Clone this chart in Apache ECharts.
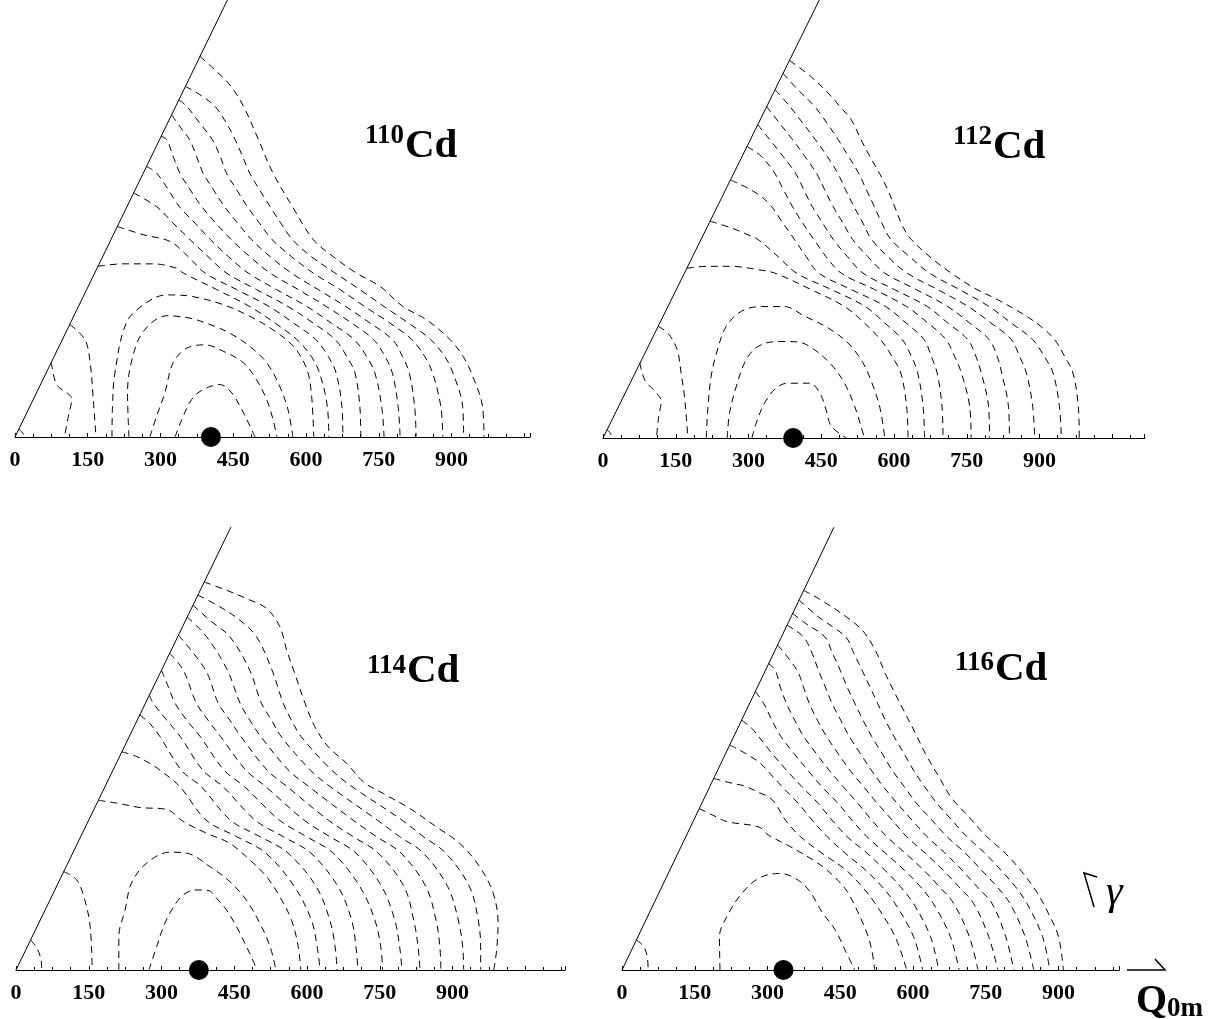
<!DOCTYPE html>
<html>
<head>
<meta charset="utf-8">
<title>Cd isotopes - potential energy surfaces</title>
<script src="https://cdn.jsdelivr.net/npm/echarts@6/dist/echarts.min.js"></script>
<style>
  html, body { margin: 0; padding: 0; background: #fff; }
  #chart { width: 1224px; height: 1019px; }
</style>
</head>
<body>
<div id="chart"></div>
<script>
// ---- data (Q0m units along both directions) ----
const qTickLabels = [0, 150, 300, 450, 600, 750, 900];
const massNumbers = ['110', '112', '114', '116'];
const minimumQ = [404, 392, 377, 333];
const axisEndQ = [1062, 1117, 1132, 1025];

const gammaEdge110 = [[0, 0], [438, 901]];
const gammaEdge112 = [[0, 0], [446, 903]];
const gammaEdge114 = [[0, 0], [443, 913]];
const gammaEdge116 = [[0, 0], [437, 913]];

const cd110Contours = [
  [[8,16],[16,8],[19,0]],
  [[75,154],[86,108],[117,78],[110,43],[102,0]],
  [[113,232],[144,201],[155,153],[161,83],[167,0]],
  [[330,0],[344,36],[364,77],[388,98],[423,108],[447,91],[464,63],[478,36],[495,0]],
  [[278,0],[292,43],[309,91],[326,153],[354,183],[392,190],[429,177],[471,153],[498,118],[519,77],[532,36],[540,0]],
  [[235,0],[232,91],[241,159],[265,218],[313,250],[361,245],[402,232],[443,214],[484,187],[519,153],[546,104],[563,56],[573,0]],
  [[200,0],[201,63],[206,132],[230,236],[271,277],[313,293],[364,290],[429,273],[484,249],[532,221],[574,187],[601,142],[611,91],[616,0]],
  [[171,352],[223,357],[285,357],[333,348],[347,338],[416,304],[484,269],[536,235],[581,201],[611,166],[628,132],[644,63],[647,0]],
  [[211,434],[265,417],[320,403],[357,372],[392,338],[457,304],[524,269],[574,235],[620,201],[646,166],[662,132],[674,63],[676,0]],
  [[245,503],[292,475],[326,441],[361,407],[398,372],[436,338],[498,304],[563,269],[615,235],[660,201],[684,166],[701,132],[711,63],[713,0]],
  [[271,558],[292,544],[316,510],[339,475],[371,441],[403,407],[440,372],[481,338],[539,304],[602,269],[652,235],[699,201],[725,166],[742,132],[756,63],[761,0]],
  [[301,620],[313,613],[326,579],[340,544],[361,510],[385,475],[414,441],[446,407],[484,372],[526,338],[584,304],[642,269],[694,235],[739,201],[763,166],[778,132],[790,63],[794,0]],
  [[323,664],[340,640],[360,613],[374,579],[388,544],[409,510],[432,475],[459,441],[488,407],[526,372],[570,338],[625,304],[682,269],[732,235],[778,201],[799,166],[813,132],[824,63],[827,0]],
  [[338,695],[354,682],[381,647],[407,613],[423,579],[436,544],[457,510],[479,475],[504,441],[530,407],[570,372],[615,338],[670,304],[721,269],[773,235],[818,201],[845,166],[861,132],[878,63],[882,0]],
  [[351,723],[381,706],[412,682],[436,647],[454,613],[469,579],[484,544],[504,510],[526,475],[548,441],[572,407],[611,372],[660,338],[711,304],[761,269],[811,235],[857,201],[886,166],[903,132],[923,63],[925,0]],
  [[381,785],[412,757],[443,726],[471,682],[502,613],[532,544],[572,475],[615,407],[656,372],[704,338],[752,311],[800,269],[848,242],[897,201],[924,166],[941,132],[964,63],[967,0]]
];

const cd112Contours = [
  [[8,17],[16,9],[17,0]],
  [[76,155],[86,120],[107,96],[120,76],[115,45],[110,0]],
  [[114,230],[134,216],[153,182],[161,134],[168,86],[175,0]],
  [[307,0],[316,31],[333,72],[357,103],[381,113],[426,113],[447,93],[460,58],[471,24],[502,0]],
  [[256,0],[261,52],[275,107],[295,161],[320,189],[361,199],[402,198],[436,182],[471,151],[498,113],[519,65],[532,24],[539,0]],
  [[213,0],[216,58],[223,127],[234,175],[254,230],[285,261],[326,271],[374,271],[416,251],[464,227],[505,196],[536,155],[557,107],[572,58],[581,0]],
  [[173,350],[216,354],[265,354],[320,347],[354,340],[429,306],[498,271],[539,237],[572,203],[596,168],[614,134],[626,65],[629,0]],
  [[221,447],[265,433],[299,419],[320,409],[361,374],[399,340],[471,306],[541,271],[581,237],[617,203],[636,168],[649,134],[660,65],[663,0]],
  [[263,532],[299,515],[326,498],[347,478],[371,443],[395,409],[419,374],[445,340],[512,306],[583,271],[625,237],[662,203],[677,168],[689,134],[699,65],[701,0]],
  [[297,601],[326,581],[354,546],[372,512],[390,478],[412,443],[435,409],[460,374],[491,340],[560,306],[626,271],[670,237],[707,203],[725,168],[739,134],[756,65],[759,0]],
  [[319,646],[344,615],[371,581],[397,546],[414,512],[431,478],[453,443],[475,409],[504,374],[536,340],[601,306],[669,271],[711,237],[752,203],[769,168],[780,134],[795,65],[797,0]],
  [[337,684],[364,649],[391,615],[416,581],[440,546],[457,512],[474,478],[495,443],[515,409],[546,374],[581,340],[646,306],[711,271],[756,237],[796,203],[813,168],[822,134],[836,65],[838,0]],
  [[355,718],[385,684],[412,649],[438,615],[462,581],[484,546],[500,512],[517,478],[536,443],[554,409],[587,374],[627,340],[690,306],[753,271],[800,237],[842,203],[859,168],[873,134],[886,65],[890,0]],
  [[371,752],[402,718],[436,684],[462,649],[485,615],[506,581],[527,546],[543,512],[559,478],[575,443],[594,409],[632,374],[673,340],[735,306],[796,271],[842,237],[886,203],[910,168],[928,134],[941,65],[945,0]],
  [[385,778],[429,745],[471,704],[488,684],[512,656],[532,615],[550,581],[570,546],[587,512],[601,478],[618,436],[636,409],[677,371],[718,340],[766,309],[814,285],[862,258],[903,230],[931,203],[952,168],[969,134],[980,65],[982,0]]
];

const cd114Contours = [
  [[30,62],[43,45],[51,24],[53,0]],
  [[98,203],[125,186],[142,144],[153,89],[157,0]],
  [[274,0],[290,48],[304,89],[321,124],[345,155],[372,165],[396,164],[417,144],[434,124],[451,96],[465,69],[482,34],[497,0]],
  [[212,0],[212,69],[225,124],[238,179],[269,220],[317,243],[352,241],[400,213],[441,182],[475,144],[503,96],[524,48],[536,0]],
  [[170,350],[208,344],[256,335],[311,331],[345,306],[393,282],[441,261],[482,227],[517,192],[544,151],[568,103],[582,48],[587,0]],
  [[218,450],[249,440],[276,426],[297,412],[338,378],[392,309],[455,275],[515,241],[574,172],[609,103],[621,48],[627,0]],
  [[255,526],[276,508],[297,481],[341,412],[382,378],[442,309],[503,275],[561,241],[619,172],[647,103],[658,48],[662,0]],
  [[275,567],[283,550],[311,515],[339,481],[385,412],[427,378],[493,309],[551,275],[608,241],[664,172],[692,103],[701,48],[705,0]],
  [[300,618],[314,584],[328,550],[352,515],[380,481],[429,412],[471,378],[543,309],[599,275],[654,241],[709,172],[740,103],[752,48],[756,0]],
  [[317,653],[345,618],[372,550],[396,515],[422,481],[474,412],[515,378],[594,309],[647,275],[701,241],[754,172],[781,103],[791,48],[796,0]],
  [[335,690],[391,618],[417,550],[441,515],[464,481],[518,412],[559,378],[644,309],[695,275],[747,241],[800,172],[820,103],[829,48],[833,0]],
  [[353,728],[393,687],[436,618],[462,550],[482,515],[505,481],[562,412],[604,378],[695,309],[743,275],[794,241],[845,172],[866,103],[874,48],[876,0]],
  [[365,752],[400,721],[441,687],[482,618],[506,550],[527,515],[547,481],[607,412],[648,378],[745,309],[791,275],[840,241],[890,172],[912,103],[921,48],[923,0]],
  [[375,773],[420,749],[462,721],[496,687],[528,618],[551,550],[568,515],[588,481],[651,412],[693,378],[796,309],[840,275],[886,241],[935,172],[953,103],[958,48],[958,0]],
  [[388,800],[434,783],[482,763],[517,745],[544,708],[558,660],[575,611],[596,550],[616,502],[644,460],[682,426],[716,388],[757,364],[812,333],[867,295],[915,261],[956,213],[984,158],[994,96],[991,41],[985,0]]
];

const cd116Contours = [
  [[30,62],[45,48],[52,27],[54,0]],
  [[202,0],[201,69],[220,117],[247,158],[282,189],[323,199],[354,191],[385,165],[412,120],[440,82],[460,41],[480,0]],
  [[159,333],[186,320],[216,306],[282,295],[302,278],[344,256],[392,228],[423,206],[460,168],[478,137],[505,76],[515,41],[521,0]],
  [[189,395],[227,385],[254,379],[282,366],[302,357],[316,344],[337,309],[368,275],[412,241],[462,206],[495,172],[522,137],[563,69],[587,0]],
  [[222,464],[254,447],[282,429],[299,412],[330,378],[363,344],[392,309],[423,275],[460,241],[502,206],[536,172],[563,137],[601,69],[620,0]],
  [[247,515],[268,498],[282,481],[309,447],[339,412],[371,378],[404,344],[433,309],[464,275],[505,241],[542,206],[574,172],[601,137],[636,69],[653,0]],
  [[275,574],[292,550],[309,515],[328,481],[354,447],[383,412],[412,378],[445,344],[474,309],[505,275],[543,241],[582,206],[615,172],[642,137],[677,69],[695,0]],
  [[302,632],[316,618],[326,584],[339,550],[356,515],[375,481],[400,447],[427,412],[456,378],[486,344],[515,309],[546,275],[584,241],[622,206],[654,172],[684,137],[716,69],[734,0]],
  [[321,670],[361,618],[374,584],[386,550],[403,515],[422,481],[445,447],[470,412],[498,378],[526,344],[557,309],[587,275],[625,241],[662,206],[694,172],[725,137],[756,69],[775,0]],
  [[340,711],[374,687],[392,653],[405,618],[419,584],[433,550],[451,515],[469,481],[491,447],[514,412],[539,378],[567,344],[598,309],[629,275],[666,241],[701,206],[732,172],[763,137],[791,69],[808,0]],
  [[352,735],[378,715],[418,687],[434,653],[450,618],[464,584],[480,550],[497,515],[515,481],[536,447],[557,412],[582,378],[607,344],[639,309],[670,275],[708,241],[741,206],[773,172],[800,137],[831,69],[849,0]],
  [[365,763],[405,728],[461,687],[478,653],[495,618],[511,584],[527,550],[543,515],[561,481],[581,447],[601,412],[624,378],[649,344],[680,309],[711,275],[748,241],[781,206],[811,172],[835,137],[867,69],[882,0]],
  [[374,783],[405,766],[453,735],[495,701],[522,660],[543,611],[563,570],[584,529],[605,488],[625,447],[653,399],[680,354],[715,316],[749,278],[790,241],[824,203],[855,161],[879,117],[900,69],[910,0]]
];

const gammaEdges = [gammaEdge110, gammaEdge112, gammaEdge114, gammaEdge116];
const contourSets = [cd110Contours, cd112Contours, cd114Contours, cd116Contours];

// ---- layout ----
const PX_PER_Q = 0.485;
const panelBoxes = [
  { left: 15, top: 0, axisRow: 437, titleX: 365, supY: 137, cdY: 149 },
  { left: 603, top: 0, axisRow: 438, titleX: 953, supY: 138, cdY: 150 },
  { left: 16, top: 525, axisRow: 970, titleX: 367, supY: 667, cdY: 674 },
  { left: 622, top: 525, axisRow: 970, titleX: 955, supY: 664, cdY: 672 }
];
const serif = '"Liberation Serif", "DejaVu Serif", serif';

const grids = [], xAxes = [], yAxes = [], series = [], graphics = [];

panelBoxes.forEach((box, i) => {
  const height = box.axisRow - box.top;
  grids.push({ left: box.left, top: box.top, width: axisEndQ[i] * PX_PER_Q, height: height });
  xAxes.push({
    gridIndex: i,
    type: 'value',
    min: 0,
    max: axisEndQ[i],
    interval: 150,
    axisLine: { show: true, lineStyle: { color: '#000', width: 1 } },
    axisTick: { show: true, inside: true, length: 4, lineStyle: { color: '#000' } },
    minorTick: { show: true, splitNumber: 4, length: 3, lineStyle: { color: '#000' } },
    splitLine: { show: false },
    axisLabel: {
      color: '#000',
      fontFamily: serif,
      fontWeight: 'bold',
      fontSize: 22,
      margin: 12,
      showMaxLabel: false,
      formatter: v => (qTickLabels.indexOf(v) >= 0 ? String(v) : '')
    }
  });
  yAxes.push({ gridIndex: i, type: 'value', min: 0, max: height / PX_PER_Q, show: false });

  series.push({
    type: 'line',
    xAxisIndex: i,
    yAxisIndex: i,
    data: gammaEdges[i],
    symbol: 'none',
    silent: true,
    lineStyle: { color: '#000', width: 1 }
  });

  contourSets[i].forEach(c => {
    series.push({
      type: 'line',
      xAxisIndex: i,
      yAxisIndex: i,
      data: c,
      smooth: 0.35,
      symbol: 'none',
      silent: true,
      clip: false,
      lineStyle: { color: '#000', width: 1, type: [7, 5] }
    });
  });

  series.push({
    type: 'scatter',
    xAxisIndex: i,
    yAxisIndex: i,
    data: [[minimumQ[i], 0]],
    symbol: 'circle',
    symbolSize: 20,
    clip: false,
    silent: true,
    itemStyle: { color: '#000', opacity: 1 }
  });

  // nucleus label, e.g. 110Cd with superscript mass number
  graphics.push({
    type: 'text',
    left: box.titleX,
    top: box.supY - 14,
    style: { text: massNumbers[i], font: 'bold 27px ' + serif, fill: '#000' }
  });
  graphics.push({
    type: 'text',
    left: box.titleX + 40,
    top: box.cdY - 23,
    style: { text: 'Cd', font: 'bold 41px ' + serif, fill: '#000' }
  });
});

// direction keys at bottom right
graphics.push({
  type: 'polyline',
  shape: { points: [[1097, 877], [1084, 873], [1094, 907]] },
  style: { stroke: '#000', lineWidth: 1.5, fill: null }
});
graphics.push({
  type: 'text',
  left: 1106,
  top: 872,
  style: { text: 'γ', font: 'italic 42px ' + serif, fill: '#000' }
});
graphics.push({
  type: 'polyline',
  shape: { points: [[1127, 970], [1165, 970], [1155, 959]] },
  style: { stroke: '#000', lineWidth: 1.5, fill: null }
});
graphics.push({
  type: 'text',
  left: 1136,
  top: 982,
  style: {
    text: '{q|Q}{s|0m}',
    rich: {
      q: { font: 'bold 40px ' + serif, fill: '#000' },
      s: { font: 'bold 27px ' + serif, fill: '#000', padding: [14, 0, 0, 0] }
    }
  }
});

const chart = echarts.init(document.getElementById('chart'));
chart.setOption({
  animation: false,
  backgroundColor: '#fff',
  grid: grids,
  xAxis: xAxes,
  yAxis: yAxes,
  series: series,
  graphic: graphics
});
</script>
</body>
</html>
